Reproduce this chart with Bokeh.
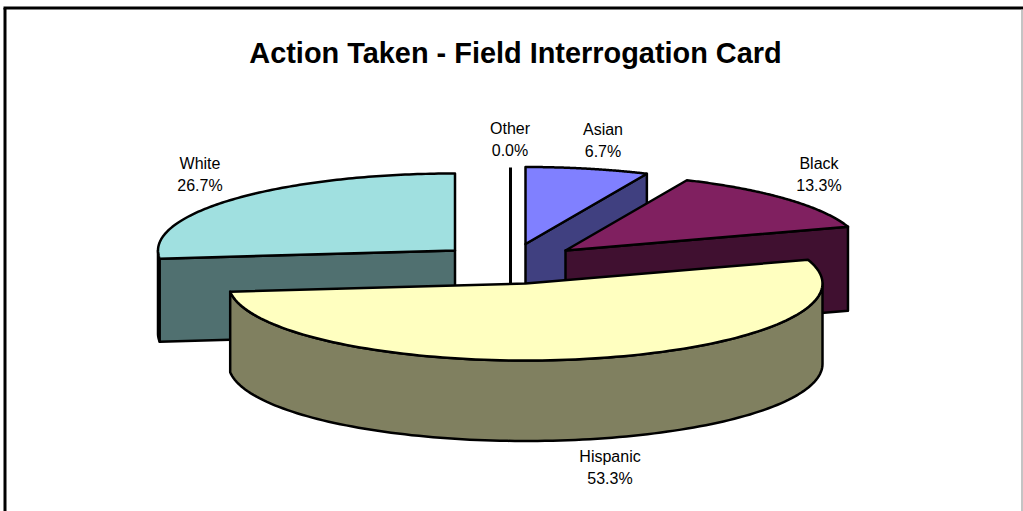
import numpy as np
from bokeh.embed import file_html
from bokeh.models import ColumnDataSource, Range1d
from bokeh.plotting import figure
from bokeh.resources import INLINE
from bokeh.core.properties import value

# ---- data ----
TITLE = "Action Taken - Field Interrogation Card"
categories = ["Asian", "Black", "Hispanic", "White", "Other"]
percents = [6.7, 13.3, 53.3, 26.7, 0.0]

# ---- style ----
top_colors = ["#8080FF", "#802060", "#FFFFC0", "#A0E0E0", "#FFFFFF"]
side_colors = ["#404080", "#401030", "#808060", "#507070", "#808080"]
apex = {"Asian": (525, 243.5), "Black": (565, 250), "Hispanic": (525, 283),
        "White": (454.5, 250), "Other": (510, 244)}
depth = {"Asian": 83, "Black": 84, "Hispanic": 80.5, "White": 83, "Other": 83}
label_pos = {"Asian": (602.5, 140), "Black": (818.5, 174), "Hispanic": (609.5, 467),
             "White": (199.5, 174), "Other": (509.5, 139)}
RX, RY = 297.0, 77.0
W, H = 1023, 511
LW = 2.5
FONT = value("Liberation Sans")

p = figure(width=W, height=H, output_backend="svg", toolbar_location=None,
           x_range=Range1d(0, W), y_range=Range1d(H, 0),
           x_axis_type=None, y_axis_type=None, min_border=0,
           outline_line_color=None, background_fill_color="white")
p.grid.visible = False
p.styles = {"position": "absolute", "left": "0px", "top": "0px"}

# frame of the chart area
p.line([4.5, 4.5], [H, 7.5], line_color="black", line_width=3)
p.line([3, W], [7.5, 7.5], line_color="black", line_width=3)
p.line([1021.5, 1021.5], [9, H], line_color="#b0b0b0", line_width=1.5)


def rim(cx, cy, a0, a1, n=120):
    t = np.radians(np.linspace(a0, a1, n))
    return cx + RX * np.sin(t), cy - RY * np.cos(t)


def poly(xs, ys, color):
    p.patch(list(xs), list(ys), fill_color=color, line_color="black",
            line_width=LW, line_join="round")


angles = np.cumsum([0.0] + percents) * 360.0 / sum(percents)
spans = {c: (angles[i], angles[i + 1]) for i, c in enumerate(categories)}


def draw_slice(name):
    i = categories.index(name)
    a0, a1 = spans[name]
    cx, cy = apex[name]
    d = depth[name]
    side, top = side_colors[i], top_colors[i]
    # outer wall: part of the rim that faces the viewer (90..270 deg)
    lo, hi = max(a0, 90.0), min(a1, 270.0)
    if hi > lo:
        x, y = rim(cx, cy, lo, hi)
        poly(np.r_[x, x[::-1]], np.r_[y, (y + d)[::-1]], side)
    # cut faces that look towards the viewer
    for a, visible in ((a0, 180 < a0 < 360), (a1, 0 < a1 < 180)):
        if visible:
            x, y = rim(cx, cy, a, a, 1)
            poly([cx, x[0], x[0], cx], [cy, y[0], y[0] + d, cy + d], side)
    x, y = rim(cx, cy, a0, a1)
    poly(np.r_[cx, x], np.r_[cy, y], top)


draw_slice("White")

# zero-size slice: only its edge can be seen
ox, oy = apex["Other"]
ex, ey = rim(ox, oy, 0, 0, 1)
p.line([ox, ox], [ey[0], oy + depth["Other"]], line_color="black", line_width=3)

draw_slice("Asian")
draw_slice("Black")
draw_slice("Hispanic")

# texts
p.text([515], [52], text=[TITLE], text_font=FONT, text_font_style="bold",
       text_font_size="28.9px", text_color="black", text_align="center",
       text_baseline="middle")

src = ColumnDataSource(dict(
    x=[label_pos[c][0] for c in categories],
    y1=[label_pos[c][1] - 11 for c in categories],
    y2=[label_pos[c][1] + 11 for c in categories],
    name=categories,
    pct=[f"{v:.1f}%" for v in percents],
))
for yc, tc in (("y1", "name"), ("y2", "pct")):
    p.text("x", yc, text=tc, source=src, text_font=FONT, text_font_size="16px",
           text_color="black", text_align="center", text_baseline="middle")

open("out.html", "w").write(file_html(p, INLINE))
